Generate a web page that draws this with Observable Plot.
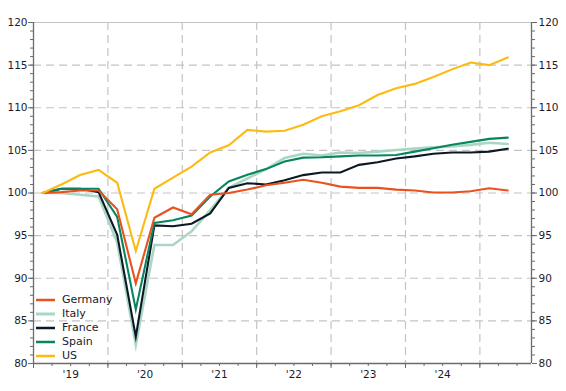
<!DOCTYPE html>
<html>
<head>
<meta charset="utf-8">
<script src="https://cdn.jsdelivr.net/npm/d3@7"></script>
<script src="https://cdn.jsdelivr.net/npm/@observablehq/plot@0.6"></script>
<style>
  html, body { margin: 0; padding: 0; background: #fff; }
  #wrap { position: relative; width: 566px; height: 391px; font-family: "DejaVu Sans", sans-serif; }
  #legend { position: absolute; left: 36px; top: 293px; font-size: 11px; line-height: 14px; color: #1b1b2b; }
  #legend .row { display: flex; align-items: center; height: 14px; line-height: 14px; }
  #legend span { display: inline-block; height: 14px; line-height: 14px; }
  #legend svg { margin-right: 7px; }
</style>
</head>
<body>
<div id="wrap"><div id="legend"></div></div>
<script>
const quarters = ["2019Q1","2019Q2","2019Q3","2019Q4","2020Q1","2020Q2","2020Q3","2020Q4",
  "2021Q1","2021Q2","2021Q3","2021Q4","2022Q1","2022Q2","2022Q3","2022Q4",
  "2023Q1","2023Q2","2023Q3","2023Q4","2024Q1","2024Q2","2024Q3","2024Q4","2025Q1","2025Q2"];
const germany = [100, 100.1, 100.3, 100.3, 98.1, 89.4, 97.1, 98.3, 97.5, 99.8, 100.0, 100.4, 100.9, 101.2, 101.55, 101.2, 100.75, 100.6, 100.6, 100.4, 100.3, 100.05, 100.05, 100.2, 100.55, 100.3];
const italy   = [100, 100.0, 99.8, 99.6, 94.2, 82.2, 93.9, 93.9, 95.5, 98.0, 100.6, 101.7, 102.8, 104.1, 104.6, 104.4, 104.75, 104.7, 104.85, 105.05, 105.2, 105.35, 105.45, 105.65, 105.9, 105.75];
const france  = [100, 100.5, 100.5, 100.1, 95.1, 83.15, 96.2, 96.1, 96.4, 97.6, 100.6, 101.15, 101.0, 101.5, 102.1, 102.4, 102.4, 103.3, 103.6, 104.05, 104.3, 104.6, 104.75, 104.75, 104.85, 105.2];
const spain   = [100, 100.5, 100.5, 100.5, 97.2, 86.35, 96.5, 96.8, 97.35, 99.6, 101.35, 102.15, 102.8, 103.7, 104.15, 104.2, 104.3, 104.4, 104.4, 104.45, 104.85, 105.25, 105.65, 106.0, 106.35, 106.5];
const us      = [100, 101.0, 102.1, 102.7, 101.2, 93.2, 100.5, 101.8, 103.1, 104.75, 105.6, 107.4, 107.2, 107.3, 108.0, 109.0, 109.6, 110.3, 111.5, 112.3, 112.8, 113.6, 114.5, 115.3, 115.0, 115.9];

const seriesNames = ["Germany", "Italy", "France", "Spain", "US"];
const seriesColors = ["#E9521F", "#A9D7C2", "#0D1826", "#078560", "#FDBA12"];
const seriesValues = [germany, italy, france, spain, us];
const drawOrder = ["Italy", "France", "Spain", "Germany", "US"];

const yearLabels = ["'19", "'20", "'21", "'22", "'23", "'24"];
const yearStarts = [2019, 2020, 2021, 2022, 2023, 2024, 2025];
const yMajor = [80, 85, 90, 95, 100, 105, 110, 115, 120];
const yGrid = [85, 90, 95, 100, 105, 110, 115];
const yMinor = d3.range(80, 121, 1);
const xDomain = [2019, 2025.694];

const toT = q => +q.slice(0, 4) + (+q.slice(5) - 0.5) / 4;
const rows = [];
seriesNames.forEach((name, k) => {
  quarters.forEach((q, i) => rows.push({series: name, t: toT(q), value: seriesValues[k][i]}));
});
const quarterTicks = d3.range(xDomain[0], xDomain[1], 0.25);
const labelTicks = yearLabels.map((l, i) => yearStarts[i] + 0.5);

const axisColor = "#6b6b6b";
const gridColor = "#c4c4c4";
const textColor = "#1b1b2b";

const lineMarks = drawOrder.map(name => {
  const k = seriesNames.indexOf(name);
  return Plot.line(rows.filter(r => r.series === name), {
    x: "t", y: "value", stroke: seriesColors[k],
    strokeWidth: name === "Italy" ? 2.6 : 2.1, strokeLinejoin: "miter", strokeMiterlimit: 10
  });
});

const chart = Plot.plot({
  width: 566,
  height: 391,
  marginTop: 22,
  marginBottom: 28,
  marginLeft: 33,
  marginRight: 35,
  style: {fontFamily: "'DejaVu Sans', sans-serif", fontSize: "10.5px", color: textColor, background: "#fff"},
  x: {domain: xDomain, axis: null, label: null},
  y: {domain: [80, 120], axis: null, label: null},
  marks: [
    Plot.gridY(yGrid, {stroke: gridColor, strokeOpacity: 1, strokeWidth: 1.2, strokeDasharray: "8,5"}),
    Plot.gridX(yearStarts.slice(1), {stroke: gridColor, strokeOpacity: 1, strokeWidth: 1.2, strokeDasharray: "8,5"}),
    Plot.ruleY([120], {stroke: gridColor, strokeWidth: 1.2}),
    Plot.axisY(yMinor, {anchor: "left", tickSize: 3, text: null, label: null, stroke: axisColor}),
    Plot.axisY(yMinor, {anchor: "right", tickSize: 3, text: null, label: null, stroke: axisColor}),
    Plot.axisY(yMajor, {anchor: "left", tickSize: 5, tickPadding: 1, stroke: axisColor, fill: textColor, label: null}),
    Plot.axisY(yMajor, {anchor: "right", tickSize: 5, tickPadding: 2, stroke: axisColor, fill: textColor, label: null}),
    Plot.axisX(quarterTicks, {anchor: "bottom", tickSize: 3, text: null, label: null, stroke: axisColor}),
    Plot.axisX(yearStarts, {anchor: "bottom", tickSize: 5, text: null, label: null, stroke: axisColor}),
    Plot.axisX(labelTicks, {anchor: "bottom", tickSize: 0, tickPadding: 7, fill: textColor, label: null,
      tickFormat: (d, i) => yearLabels[i]}),
    Plot.ruleY([80], {stroke: axisColor, strokeWidth: 1.3}),
    Plot.ruleX([xDomain[0]], {stroke: axisColor, strokeWidth: 1.3}),
    Plot.ruleX([xDomain[1]], {stroke: axisColor, strokeWidth: 1.3}),
    ...lineMarks
  ]
});
document.getElementById("wrap").prepend(chart);

const legend = document.getElementById("legend");
seriesNames.forEach((name, k) => {
  const row = document.createElement("div");
  row.className = "row";
  row.innerHTML = `<svg width="19" height="4"><line x1="0" x2="19" y1="2" y2="2" stroke="${seriesColors[k]}" stroke-width="${name === "Italy" ? 3 : 2.5}"/></svg><span>${name}</span>`;
  legend.appendChild(row);
});
</script>
</body>
</html>
